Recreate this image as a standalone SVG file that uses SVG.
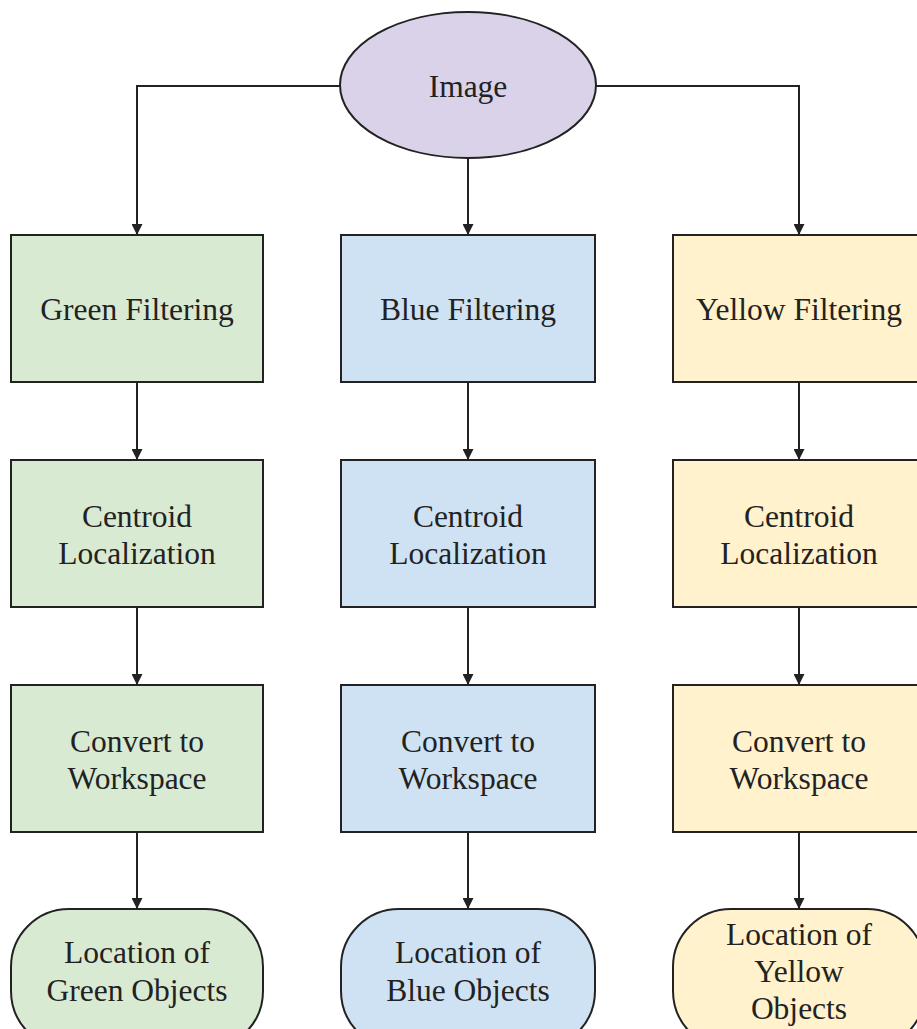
<svg xmlns="http://www.w3.org/2000/svg" width="917" height="1029" viewBox="0 0 917 1029">
<style>
.n{stroke:#222;stroke-width:2}
.g{fill:#d9ead3}.b{fill:#cfe2f3}.y{fill:#fff2cc}.p{fill:#d9d2e9}
text{font-family:"Liberation Serif","Times New Roman",serif;font-size:31.5px;fill:#222;text-anchor:middle}
.c{fill:none;stroke:#222;stroke-width:2;marker-end:url(#ah)}
</style>
<defs>
<marker id="ah" markerWidth="11" markerHeight="11" refX="11" refY="5.5" orient="auto" markerUnits="userSpaceOnUse">
<path d="M0,0 L11,5.5 L0,11 Z" fill="#222"/>
</marker>
</defs>
<rect width="917" height="1029" fill="#fff"/>
<g id="connectors">
<path class="c" d="M340,86 H137 V235"/>
<path class="c" d="M468,158 V235"/>
<path class="c" d="M596,86 H799 V235"/>
<path class="c" d="M137,382 V460"/>
<path class="c" d="M468,382 V460"/>
<path class="c" d="M799,382 V460"/>
<path class="c" d="M137,607 V685"/>
<path class="c" d="M468,607 V685"/>
<path class="c" d="M799,607 V685"/>
<path class="c" d="M137,832 V909"/>
<path class="c" d="M468,832 V909"/>
<path class="c" d="M799,832 V909"/>
</g>
<g id="image"><ellipse class="n p" cx="468" cy="85" rx="128" ry="73"/><text x="468" y="97">Image</text></g>
<g id="green-filtering"><rect class="n g" x="11" y="235" width="252" height="147"/><text x="137" y="320">Green Filtering</text></g>
<g id="blue-filtering"><rect class="n b" x="341" y="235" width="254" height="147"/><text x="468" y="320">Blue Filtering</text></g>
<g id="yellow-filtering"><rect class="n y" x="673" y="235" width="252" height="147"/><text x="799" y="320">Yellow Filtering</text></g>
<g id="green-centroid"><rect class="n g" x="11" y="460" width="252" height="147"/><text x="137" y="527">Centroid</text><text x="137" y="564">Localization</text></g>
<g id="blue-centroid"><rect class="n b" x="341" y="460" width="254" height="147"/><text x="468" y="527">Centroid</text><text x="468" y="564">Localization</text></g>
<g id="yellow-centroid"><rect class="n y" x="673" y="460" width="252" height="147"/><text x="799" y="527">Centroid</text><text x="799" y="564">Localization</text></g>
<g id="green-convert"><rect class="n g" x="11" y="685" width="252" height="147"/><text x="137" y="752">Convert to</text><text x="137" y="789">Workspace</text></g>
<g id="blue-convert"><rect class="n b" x="341" y="685" width="254" height="147"/><text x="468" y="752">Convert to</text><text x="468" y="789">Workspace</text></g>
<g id="yellow-convert"><rect class="n y" x="673" y="685" width="252" height="147"/><text x="799" y="752">Convert to</text><text x="799" y="789">Workspace</text></g>
<g id="green-location"><rect class="n g" x="11" y="909" width="252" height="140" rx="58" ry="58"/><text x="137" y="963">Location of</text><text x="137" y="1001">Green Objects</text></g>
<g id="blue-location"><rect class="n b" x="341" y="909" width="254" height="140" rx="58" ry="58"/><text x="468" y="963">Location of</text><text x="468" y="1001">Blue Objects</text></g>
<g id="yellow-location"><rect class="n y" x="673" y="909" width="252" height="140" rx="58" ry="58"/><text x="799" y="945">Location of</text><text x="799" y="982">Yellow</text><text x="799" y="1019">Objects</text></g>
</svg>
